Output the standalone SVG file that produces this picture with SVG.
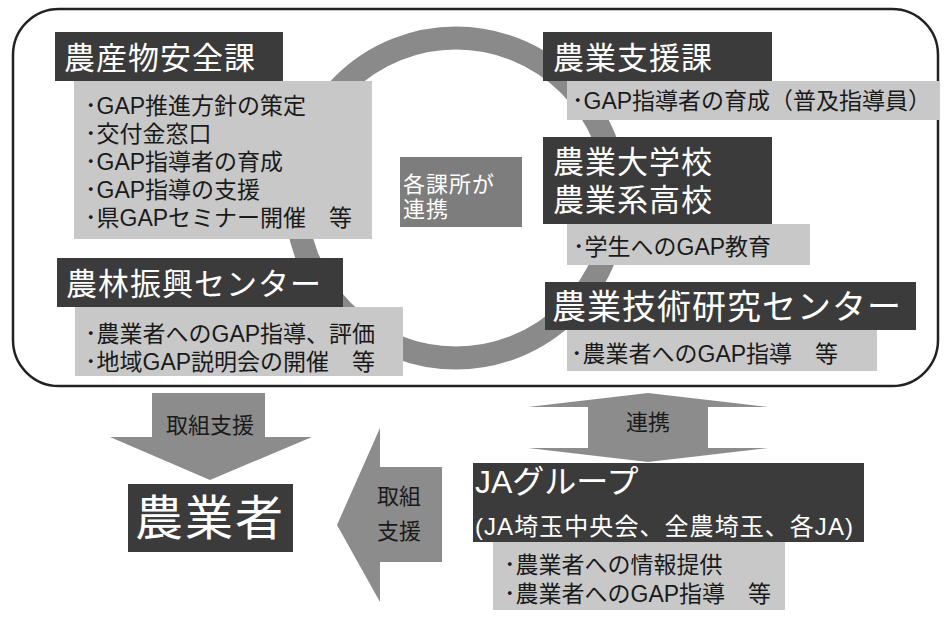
<svg xmlns="http://www.w3.org/2000/svg" width="947" height="622" viewBox="0 0 947 622">
<style>
text{font-family:"Liberation Sans","Noto Sans CJK JP",sans-serif;}
.dark{fill:#3b3b3b;}
.light{fill:#c8c8c8;}
.arrow{fill:#8c8c8c;}
.title{fill:#ffffff;font-size:31px;letter-spacing:1px;}
.body{fill:#1a1a1a;font-size:23px;}
.lbl{fill:#1a1a1a;font-size:22px;}
</style>
<rect x="0" y="0" width="947" height="622" fill="#ffffff"/>
<rect id="frame" x="13" y="9" width="925" height="377" rx="46" ry="46" fill="none" stroke="#222" stroke-width="2.5"/>
<g id="connectors">
<circle cx="456" cy="198" r="160" fill="none" stroke="#8a8a8a" stroke-width="23"/>
<polygon class="arrow" points="152,393 265,393 265,437 312,437 210,480 110,437 152,437"/>
<polygon class="arrow" points="442,467 442,562 380,562 380,602 337,525 380,428 380,467"/>
<polygon class="arrow" points="648,393 768,407 708,407 708,448 768,448 648,462 528,448 588,448 588,407 528,407"/>
<text class="lbl" x="210" y="433" text-anchor="middle">取組支援</text>
<text class="lbl" x="399" y="504" text-anchor="middle">取組</text>
<text class="lbl" x="399" y="539" text-anchor="middle">支援</text>
<text class="lbl" x="648" y="430" text-anchor="middle">連携</text>
</g>
<g id="center">
<rect x="400" y="157" width="122" height="70" fill="#7d7d7d"/>
<text x="403" y="192" fill="#fff" font-size="22" letter-spacing="1">各課所が</text>
<text x="403" y="217" fill="#fff" font-size="22" letter-spacing="1">連携</text>
</g>
<g id="nosanbutsu">
<rect class="dark" x="55" y="32" width="228" height="49"/>
<rect class="light" x="74" y="81" width="298" height="158"/>
<text class="title" x="64" y="69">農産物安全課</text>
<text class="body" x="85" y="114">･GAP推進方針の策定</text>
<text class="body" x="85" y="142">･交付金窓口</text>
<text class="body" x="85" y="170">･GAP指導者の育成</text>
<text class="body" x="85" y="198">･GAP指導の支援</text>
<text class="body" x="85" y="226">･県GAPセミナー開催　等</text>
</g>
<g id="norin">
<rect class="dark" x="57" y="258" width="286" height="49"/>
<rect class="light" x="75" y="307" width="328" height="69"/>
<text class="title" x="66" y="295">農林振興センター</text>
<text class="body" x="85" y="342">･農業者へのGAP指導、評価</text>
<text class="body" x="85" y="370">･地域GAP説明会の開催　等</text>
</g>
<g id="nogyoshien">
<rect class="dark" x="543" y="32" width="229" height="49"/>
<rect class="light" x="567" y="81" width="373" height="39"/>
<text class="title" x="553" y="69">農業支援課</text>
<text class="body" x="572" y="109">･GAP指導者の育成（普及指導員）</text>
</g>
<g id="daigaku">
<rect class="dark" x="543" y="137" width="229" height="87"/>
<rect class="light" x="567" y="224" width="243" height="41"/>
<text class="title" x="553" y="173">農業大学校</text>
<text class="title" x="553" y="211">農業系高校</text>
<text class="body" x="573" y="255">･学生へのGAP教育</text>
</g>
<g id="gijutsu">
<rect class="dark" x="545" y="282" width="371" height="48"/>
<rect class="light" x="567" y="330" width="310" height="41"/>
<text class="title" x="552" y="319" style="font-size:34px">農業技術研究センター</text>
<text class="body" x="571" y="362">･農業者へのGAP指導　等</text>
</g>
<g id="nogyosha">
<rect class="dark" x="128" y="484" width="165" height="68"/>
<text x="210" y="535" fill="#fff" font-size="48" text-anchor="middle" letter-spacing="2">農業者</text>
</g>
<g id="ja">
<rect class="dark" x="473" y="463" width="391" height="79"/>
<rect class="light" x="493" y="542" width="292" height="68"/>
<text x="475" y="493" fill="#fff" font-size="32">JAグループ</text>
<text x="475" y="535" fill="#fff" font-size="24" textLength="378" lengthAdjust="spacing">(JA埼玉中央会、全農埼玉、各JA)</text>
<text class="body" x="504" y="573">･農業者への情報提供</text>
<text class="body" x="504" y="602">･農業者へのGAP指導　等</text>
</g>
</svg>
